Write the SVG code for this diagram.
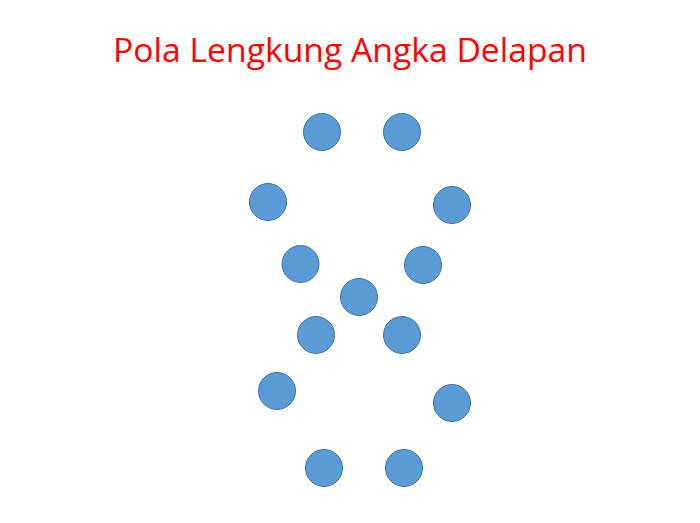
<svg xmlns="http://www.w3.org/2000/svg" width="700" height="523" viewBox="0 0 700 523">
<style>
.dot{fill:#5B9BD5;stroke:#41719C;stroke-width:1}
.title{font-family:"Open Sans","Liberation Sans",sans-serif;font-size:32px;fill:#FF0000}
</style>
<rect width="700" height="523" fill="#FFFFFF"/>
<text class="title" x="350" y="62" text-anchor="middle" textLength="474" lengthAdjust="spacingAndGlyphs">Pola Lengkung Angka Delapan</text>
<g id="nodes">
<g id="n1"><circle class="dot" cx="322" cy="132" r="18.5"/></g>
<g id="n2"><circle class="dot" cx="402" cy="132" r="18.5"/></g>
<g id="n3"><circle class="dot" cx="268" cy="202" r="18.5"/></g>
<g id="n4"><circle class="dot" cx="452" cy="205" r="18.5"/></g>
<g id="n5"><circle class="dot" cx="300.5" cy="264" r="18.5"/></g>
<g id="n6"><circle class="dot" cx="423" cy="265" r="18.5"/></g>
<g id="n7"><circle class="dot" cx="359" cy="297" r="18.5"/></g>
<g id="n8"><circle class="dot" cx="316" cy="335" r="18.5"/></g>
<g id="n9"><circle class="dot" cx="402" cy="335" r="18.5"/></g>
<g id="n10"><circle class="dot" cx="277" cy="391" r="18.5"/></g>
<g id="n11"><circle class="dot" cx="452" cy="403" r="18.5"/></g>
<g id="n12"><circle class="dot" cx="324" cy="468" r="18.5"/></g>
<g id="n13"><circle class="dot" cx="404" cy="468" r="18.5"/></g>
</g>
<g id="connectors"></g>
</svg>
